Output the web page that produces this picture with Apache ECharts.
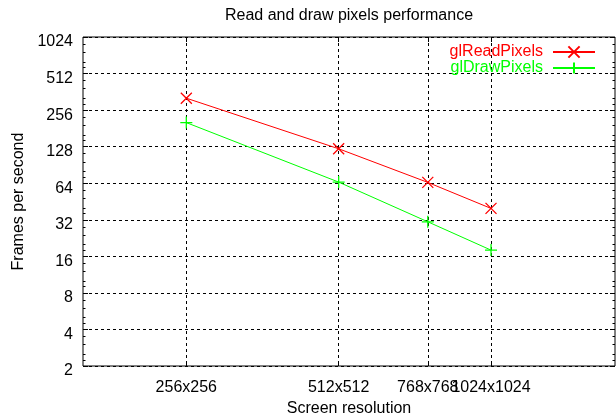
<!DOCTYPE html>
<html><head><meta charset="utf-8">
<script src="https://cdn.jsdelivr.net/npm/echarts@6/dist/echarts.min.js"></script>
<style>html,body{margin:0;padding:0;background:#fff}#c{width:616px;height:418px}</style>
</head><body><div id="c"></div>
<script>
const resolutions = [256, 512, 768, 1024];
const xTickLabels = ['256x256', '512x512', '768x768', '1024x1024'];
const readFps = [321, 123, 65, 39.7];
const drawFps = [202, 65.4, 30.8, 18.0];
const yTicks = [2, 4, 8, 16, 32, 64, 128, 256, 512, 1024];
const seriesNames = ['glReadPixels', 'glDrawPixels'];
const seriesColors = ['#ff0000', '#00ff00'];
const minorFactors = [1.125, 1.25, 1.5, 1.75];

const yMinor = [];
yTicks.slice(0, -1).forEach(v => minorFactors.forEach(f => yMinor.push(v * f)));

const font = '"Liberation Sans", Arial, sans-serif';
const dash = [3, 3];
const crossPath = 'path://M0,0L10,10M10,0L0,10';
const plusPath = 'path://M5,0L5,10M0,5L10,5';

// labels split over two overlaid axes so neighbouring labels are never dropped
const xLabelSetA = resolutions.filter((v, i) => i % 2 === 0);
const xLabelSetB = resolutions.filter((v, i) => i % 2 === 1);

function xAxisCfg(pos, labelValues, grid, named) {
  return {
    type: 'log', logBase: 2, min: 160, max: 1800, position: pos,
    axisLine: { show: false },
    axisTick: { show: grid || pos === 'top', inside: true, length: 5, customValues: resolutions, lineStyle: { color: '#000', width: 1 } },
    axisLabel: labelValues ? {
      show: true, customValues: labelValues, margin: 14, color: '#000', fontSize: 16, fontFamily: font,
      hideOverlap: false, interval: 0,
      formatter: v => xTickLabels[resolutions.indexOf(Math.round(v))]
    } : { show: false },
    splitLine: grid ? { show: true, lineStyle: { color: '#000', type: dash, width: 1 } } : { show: false },
    minorTick: { show: false }, minorSplitLine: { show: false },
    name: named ? 'Screen resolution' : '',
    nameLocation: 'middle', nameGap: 35,
    nameTextStyle: { fontSize: 16, color: '#000', fontFamily: font }
  };
}
function yAxisCfg(pos, main, minor) {
  return {
    type: 'log', logBase: 2, min: 2, max: 1024, position: pos,
    axisLine: { show: false },
    axisTick: { show: true, inside: true, length: minor ? 2.5 : 5, customValues: minor ? yMinor : yTicks, lineStyle: { color: '#000', width: 1 } },
    axisLabel: main ? {
      show: true, customValues: yTicks, margin: 10, color: '#000', fontSize: 16, fontFamily: font,
      verticalAlign: 'top', lineHeight: 10,
      formatter: v => String(Math.round(v))
    } : { show: false },
    splitLine: main ? { show: true, lineStyle: { color: '#000', type: dash, width: 1 } } : { show: false },
    name: main ? 'Frames per second' : '',
    nameLocation: 'middle', nameGap: 50,
    nameTextStyle: { fontSize: 16, color: '#000', fontFamily: font }
  };
}

const chart = echarts.init(document.getElementById('c'), null, { renderer: 'canvas' });
chart.setOption({
  animation: false,
  backgroundColor: '#fff',
  textStyle: { fontFamily: font },
  graphic: [{
    type: 'text', x: 349, y: 15.5,
    style: { text: 'Read and draw pixels performance', fill: '#000', font: '16px ' + font, textAlign: 'center', textVerticalAlign: 'middle' }
  }],
  legend: {
    orient: 'vertical', right: 20, top: 44, align: 'right', padding: 0,
    itemWidth: 42, itemHeight: 14, itemGap: 0,
    textStyle: { fontSize: 16, lineHeight: 16, fontFamily: font, padding: [0, 5, 0, 0] },
    data: seriesNames.map((n, i) => ({ name: n, textStyle: { color: seriesColors[i] } }))
  },
  grid: { left: 83, right: 1, top: 37, bottom: 52, show: true, borderColor: '#000', borderWidth: 1, containLabel: false, outerBoundsMode: 'none' },
  xAxis: [
    xAxisCfg('bottom', xLabelSetA, true, true),
    xAxisCfg('bottom', xLabelSetB, false, false),
    xAxisCfg('top', null, false, false)
  ],
  yAxis: [yAxisCfg('left', true, false), yAxisCfg('right', false, false), yAxisCfg('left', false, true), yAxisCfg('right', false, true)],
  series: [
    {
      type: 'line', name: seriesNames[0], xAxisIndex: 0, yAxisIndex: 0,
      data: resolutions.map((x, i) => [x, readFps[i]]),
      symbol: crossPath, symbolSize: 11, showSymbol: true,
      lineStyle: { color: seriesColors[0], width: 1 },
      itemStyle: { color: seriesColors[0], borderColor: seriesColors[0], borderWidth: 1.3 }
    },
    {
      type: 'line', name: seriesNames[1], xAxisIndex: 0, yAxisIndex: 0,
      data: resolutions.map((x, i) => [x, drawFps[i]]),
      symbol: plusPath, symbolSize: 12, showSymbol: true,
      lineStyle: { color: seriesColors[1], width: 1 },
      itemStyle: { color: seriesColors[1], borderColor: seriesColors[1], borderWidth: 1.3 }
    }
  ]
});
</script>
</body></html>
